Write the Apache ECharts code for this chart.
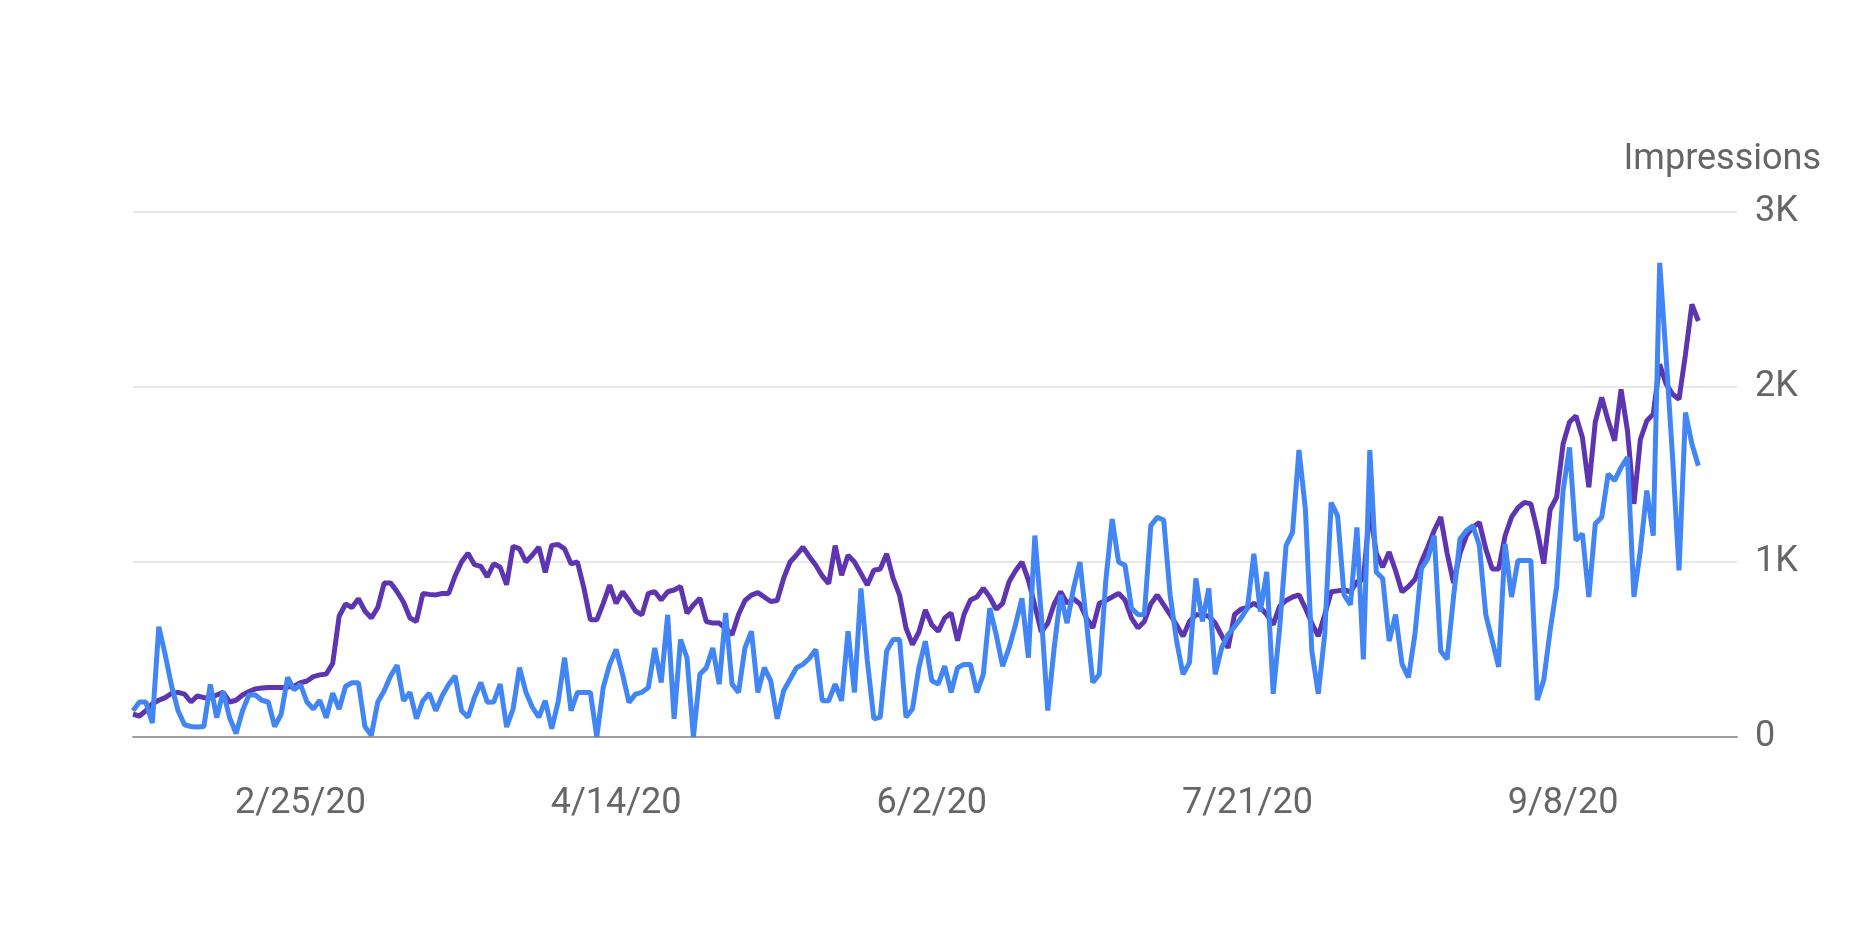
<!DOCTYPE html>
<html><head><meta charset="utf-8">
<script src="https://cdn.jsdelivr.net/npm/echarts@6/dist/echarts.min.js"></script>
<style>html,body{margin:0;padding:0;background:#fff}#c{width:1870px;height:951px}</style>
</head><body><div id="c"></div>
<script>
// Daily points, first day 1/30/20
const startYear = 2020, startMonth = 0, startDay = 30;
const dayCount = 250; // axis extends a few days past the data
const xTickLabels = ['2/25/20', '4/14/20', '6/2/20', '7/21/20', '9/8/20'];
const yTickLabels = ['0', '1K', '2K', '3K'];

const purpleSeries = [
 130,120,150,190,210,225,250,255,245,200, 235,225,225,240,255,200,210,240,260,275,
 280,283,283,283,285,290,310,320,345,355, 360,420,690,760,740,790,720,680,740,880,
 880,830,770,680,660,820,815,812,820,820, 920,1000,1050,985,975,915,990,970,870,1090,
 1075,1000,1040,1085,940,1095,1100,1075,990,1000, 850,670,670,764,868,764,830,780,720,698,
 821,830,783,830,840,860,708,755,793,660, 651,651,620,585,700,780,811,825,800,774,
 780,906,1000,1040,1085,1030,981,920,877,1094, 925,1038,1000,934,868,953,960,1047,906,811,
 623,528,600,726,642,604,680,708,550,700, 783,800,850,800,730,764,887,950,1000,896,
 750,600,650,760,830,764,790,760,680,623, 764,780,800,821,783,680,623,660,760,811,
 755,700,640,575,660,698,698,690,650,580, 509,700,730,740,764,740,700,642,746,780,
 800,812,736,650,576,699,830,835,840,830, 887,900,1300,1050,971,1057,950,829,860,900,
 1000,1086,1180,1257,1050,880,1050,1151,1200,1226, 1075,960,960,1150,1256,1310,1341,1332,1180,990,
 1300,1370,1674,1800,1835,1712,1427,1800,1940,1807, 1693,1987,1750,1332,1700,1807,1845,2130,2016,1959,
 1930,2187,2472,2377
];

const blueSeries = [
 150,200,200,80,630,470,290,150,70,60, 57,60,300,110,260,110,20,150,240,240,
 210,200,60,130,340,270,300,200,160,210, 110,250,160,290,310,310,60,10,200,264,
 350,410,207,255,105,207,250,150,236,300, 349,150,113,226,311,198,200,302,57,160,
 396,255,170,113,207,47,200,453,151,255, 255,255,0,283,415,500,358,198,245,255,
 283,509,311,698,104,557,453,0,358,396, 509,302,708,302,255,509,604,255,396,321,
 104,264,330,396,415,450,500,207,207,302, 207,604,255,849,434,104,113,491,557,557,
 113,160,396,547,321,302,405,255,396,415, 415,255,358,736,585,405,509,642,793,453,
 1151,698,151,509,811,651,849,1000,660,311, 358,887,1245,1000,981,736,700,698,1208,1255,
 1240,811,550,358,425,906,660,849,358,509, 585,630,679,736,1047,717,943,247,623,1094,
 1169,1640,1301,491,247,586,1339,1264,812,755, 1198,444,1640,943,906,548,699,416,341,586,
 962,1019,1151,491,444,800,1132,1180,1207,1094, 699,550,401,1104,800,1009,1009,1009,211,325,
 610,857,1408,1655,1123,1161,800,1218,1256,1503, 1465,1541,1598,800,1066,1408,1151,2709,2168,1598,
 952,1854,1674,1550
];

const categories = [];
for (let i = 0; i < dayCount; i++) {
  const d = new Date(Date.UTC(startYear, startMonth, startDay + i));
  categories.push((d.getUTCMonth() + 1) + '/' + d.getUTCDate() + '/' + String(d.getUTCFullYear()).slice(2));
}

const textColor = '#666666';
const fontFamily = 'Roboto, Arial, sans-serif';

const chart = echarts.init(document.getElementById('c'), null, {renderer: 'canvas'});
chart.setOption({
  animation: false,
  backgroundColor: '#ffffff',
  grid: {left: 133, right: 133, top: 212, bottom: 214, containLabel: false},
  graphic: [{
    type: 'text', right: 49, top: 142,
    style: {text: 'Impressions', fontSize: 36, fontFamily: fontFamily, fill: textColor}
  }],
  xAxis: {
    type: 'category',
    data: categories,
    boundaryGap: false,
    axisLine: {show: true, lineStyle: {color: '#9e9e9e', width: 2}},
    axisTick: {show: false},
    splitLine: {show: false},
    axisLabel: {
      interval: (idx, val) => xTickLabels.includes(val),
      color: textColor, fontSize: 36, fontFamily: fontFamily, margin: 49
    }
  },
  yAxis: {
    type: 'value',
    position: 'right',
    min: 0, max: 3000, interval: 1000,
    axisLine: {show: false},
    axisTick: {show: false},
    splitLine: {show: true, lineStyle: {color: '#e8e8e8', width: 2}},
    axisLabel: {
      margin: 18, color: textColor, fontSize: 36, fontFamily: fontFamily,
      formatter: v => yTickLabels[Math.round(v / 1000)]
    }
  },
  series: [
    {type: 'line', data: purpleSeries, showSymbol: false, symbol: 'none',
     lineStyle: {color: '#5e35b1', width: 5}, itemStyle: {color: '#5e35b1'}, z: 2},
    {type: 'line', data: blueSeries, showSymbol: false, symbol: 'none',
     lineStyle: {color: '#4285f4', width: 5}, itemStyle: {color: '#4285f4'}, z: 3}
  ]
});
</script>
</body></html>
